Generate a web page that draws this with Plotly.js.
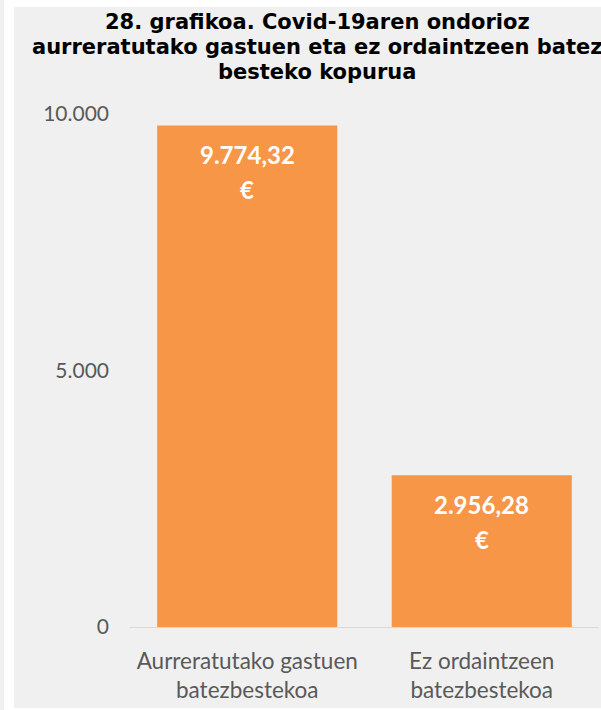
<!DOCTYPE html>
<html>
<head>
<meta charset="utf-8">
<script src="https://cdn.plot.ly/plotly-3.0.1.min.js"></script>
<style>
  html, body { margin: 0; padding: 0; background: #ffffff; width: 601px; height: 710px; overflow: hidden; }
  #strip { position: absolute; left: 0; top: 0; width: 4px; height: 710px; background: #f0f0f0; }
  #chart { position: absolute; left: 14px; top: 7px; width: 587px; height: 701px; }
</style>
</head>
<body>
<div id="strip"></div>
<div id="chart"></div>
<script>
// ---- data ----
const categories = ["Aurreratutako gastuen<br>batezbestekoa", "Ez ordaintzeen<br>batezbestekoa"];
const values = [9774.32, 2956.28];
const yTickVals = [0, 5000, 10000];
const yTickText = ["0", "5.000", "10.000"];
const titleLines = [
  "28. grafikoa. Covid-19aren ondorioz",
  "aurreratutako gastuen eta ez ordaintzeen batez",
  "besteko kopurua"
];
const currencySymbol = "€";

function fmtEU(v) {
  const parts = v.toFixed(2).split(".");
  parts[0] = parts[0].replace(/\B(?=(\d{3})+(?!\d))/g, ".");
  return parts[0] + "," + parts[1];
}

const barColor = "#F79646";
const labelFont = { family: "Lato, 'Open Sans', sans-serif", size: 24, color: "#ffffff", weight: "bold" };
const titleFont = { family: "'DejaVu Sans', Verdana, sans-serif", size: 21, color: "#000000", weight: "bold" };

// layout geometry (pixels inside the chart div)
const M = { l: 116, r: 2, t: 107, b: 81 };
const W = 587, H = 701;
const plotH = H - M.t - M.b;
const plotW = W - M.l - M.r;
const titleCenterX = 303;           // px
const titleLineY = [15, 40, 65];    // px from top of chart div

const annotations = [];
titleLines.forEach((t, i) => {
  annotations.push({
    xref: "paper", yref: "paper",
    x: (titleCenterX - M.l) / plotW,
    y: 1 + (M.t - titleLineY[i]) / plotH,
    xanchor: "center", yanchor: "middle",
    text: "<b>" + t + "</b>",
    showarrow: false,
    font: titleFont
  });
});
categories.forEach((c, i) => {
  annotations.push({
    x: c, y: values[i], xref: "x", yref: "y",
    text: "<b>" + fmtEU(values[i]) + "</b>",
    showarrow: false, yanchor: "middle", yshift: -29,
    font: labelFont
  });
  annotations.push({
    x: c, y: values[i], xref: "x", yref: "y",
    text: "<b>" + currencySymbol + "</b>",
    showarrow: false, yanchor: "middle", yshift: -64,
    font: labelFont
  });
});

const trace = {
  type: "bar",
  x: categories,
  y: values,
  marker: { color: barColor },
  hoverinfo: "none"
};

const layout = {
  width: W, height: H,
  paper_bgcolor: "#f0f0f0",
  plot_bgcolor: "#f0f0f0",
  margin: M,
  bargap: 0.232,
  showlegend: false,
  xaxis: {
    type: "category",
    showline: true, linecolor: "#d9d9d9", linewidth: 1,
    showgrid: false, zeroline: false,
    ticks: "",
    tickfont: { family: "Lato, 'Open Sans', sans-serif", size: 22.5, color: "#595959" },
    ticklabelstandoff: 14,
    fixedrange: true
  },
  yaxis: {
    range: [0, 10000],
    showline: false, showgrid: false, zeroline: false,
    tickmode: "array", tickvals: yTickVals, ticktext: yTickText,
    ticks: "",
    tickfont: { family: "Lato, 'Open Sans', sans-serif", size: 21, color: "#595959" },
    ticklabelstandoff: 20,
    fixedrange: true
  },
  annotations: annotations
};

Plotly.newPlot("chart", [trace], layout, { displayModeBar: false, staticPlot: true });
</script>
</body>
</html>
